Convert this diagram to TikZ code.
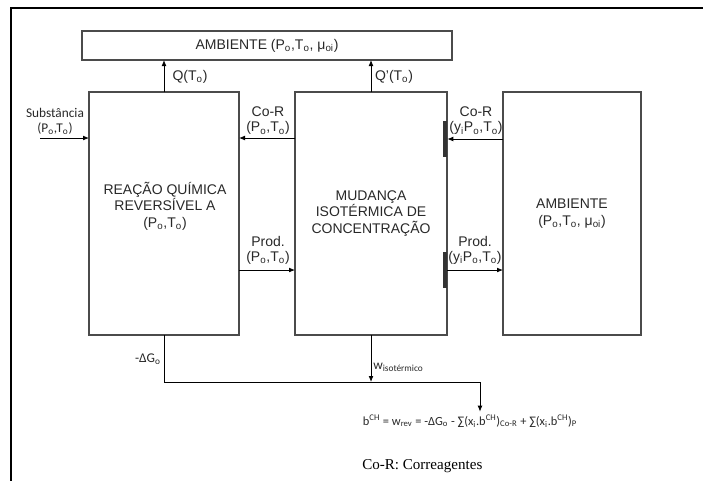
\documentclass[tikz,border=0pt]{standalone}
\usepackage{fontspec}
\setmainfont{Liberation Sans}
\newfontfamily\calfont{Carlito}
\newfontfamily\timesfont{Liberation Serif}
\usetikzlibrary{arrows.meta,calc}
\definecolor{edge}{RGB}{75,75,75}
\definecolor{ink}{RGB}{40,40,40}

\begin{document}
\begin{tikzpicture}[x=0.75pt,y=-0.75pt,
  box/.style={draw=edge,line width=1.1pt,inner sep=0pt,outer sep=0pt},
  txt/.style={font=\fontsize{10.5}{12.3}\selectfont,text=ink,align=center,inner sep=0pt},
  tag/.style={font=\fontsize{10.5}{11.25}\selectfont,text=ink,align=center,inner sep=0pt},
  cal/.style={font=\calfont\fontsize{10}{11.25}\selectfont,text=ink,align=center,inner sep=0pt},
  flow/.style={line width=0.6pt,-{Latex[length=4.5pt,width=3.6pt]}},
  bar/.style={fill=black!80,draw=none,inner sep=0pt,minimum width=3pt,minimum height=27pt}]
\useasboundingbox (0,0) rectangle (703,480);
% frame (cut off at the right and bottom)
\draw[line width=2.2pt] (11,484) -- (11,8) -- (707,8);

% blocks
\node[box,minimum width=277.5pt,minimum height=21.75pt] (amb1) at (267,45.5) {};
\node[txt] (amb1t) at (amb1.center) {AMBIENTE (P\textsubscript{o},T\textsubscript{o}, μ\textsubscript{oi})};
\node[box,minimum width=112.5pt,minimum height=182.25pt] (reacao) at (164,213.5) {};
\node[txt] (reacaot) at (165,206) {REAÇÃO QUÍMICA\\REVERSÍVEL A\\(P\textsubscript{o},T\textsubscript{o})};
\node[box,minimum width=114pt,minimum height=182.25pt] (mud) at (371,213.5) {};
\node[txt] (mudt) at (mud.center) {MUDANÇA\\ISOTÉRMICA DE\\CONCENTRAÇÃO};
\node[box,minimum width=103.5pt,minimum height=182.25pt] (amb2) at (572,213.5) {};
\node[txt] (amb2t) at (amb2.center) {AMBIENTE\\(P\textsubscript{o},T\textsubscript{o}, μ\textsubscript{oi})};

% walls on the right side of the middle block
\node[bar] (barA) at (445,139) {};
\node[bar] (barB) at (445,270) {};

% streams
\coordinate (src) at (40,138);
\coordinate (rowA) at (0,138);
\coordinate (rowB) at (0,270);
\draw[flow] (src) -- (reacao.west |- src);
\draw[flow] (mud.west |- rowA) -- (reacao.east |- rowA);
\draw[flow] (amb2.west |- barA) -- (barA.east);
\draw[flow] (reacao.east |- rowB) -- (mud.west |- rowB);
\draw[flow] (barB.east) -- (amb2.west |- barB);
\draw[flow] (reacao.north) -- (reacao.north |- amb1.south);
\draw[flow] (mud.north) -- (mud.north |- amb1.south);

\node[cal] (subst) at (55,121) {Substância\\(P\textsubscript{o},T\textsubscript{o})};
\node[tag] (corA) at (268,121) {Co-R\\(P\textsubscript{o},T\textsubscript{o})};
\node[tag] (corB) at (476,121) {Co-R\\(y\textsubscript{i}P\textsubscript{o},T\textsubscript{o})};
\node[tag] (prodA) at (268,250) {Prod.\\(P\textsubscript{o},T\textsubscript{o})};
\node[tag] (prodB) at (475,250) {Prod.\\(y\textsubscript{i}P\textsubscript{o},T\textsubscript{o})};
\node[tag] (q) at (190,77) {Q(T\textsubscript{o})};
\node[tag] (qq) at (394,77) {Q'(T\textsubscript{o})};

% work balance
\node[cal,anchor=west,inner sep=2pt,font=\calfont\fontsize{9.3}{11}\selectfont] (eq) at (360,421) {b\textsuperscript{CH} = w\textsubscript{rev} = -ΔG\textsubscript{o} - ∑(x\textsubscript{i}.b\textsuperscript{CH})\textsubscript{Co-R} + ∑(x\textsubscript{i}.b\textsuperscript{CH})\textsubscript{P}};
\coordinate (jn) at (480,382);
\draw[flow] (reacao.south) |- (jn) -- (jn |- eq.north);
\draw[flow] (mud.south) -- (mud.south |- jn);
\node[cal,anchor=east] (dg) at (161,359) {-ΔG\textsubscript{o}};
\node[cal,anchor=west] (wiso) at (373,367) {w\textsubscript{isotérmico}};
\node[anchor=west,inner sep=0pt,font=\timesfont\fontsize{11.3}{13}\selectfont] (nota) at (362,466) {Co-R: Correagentes};
\end{tikzpicture}
\end{document}
